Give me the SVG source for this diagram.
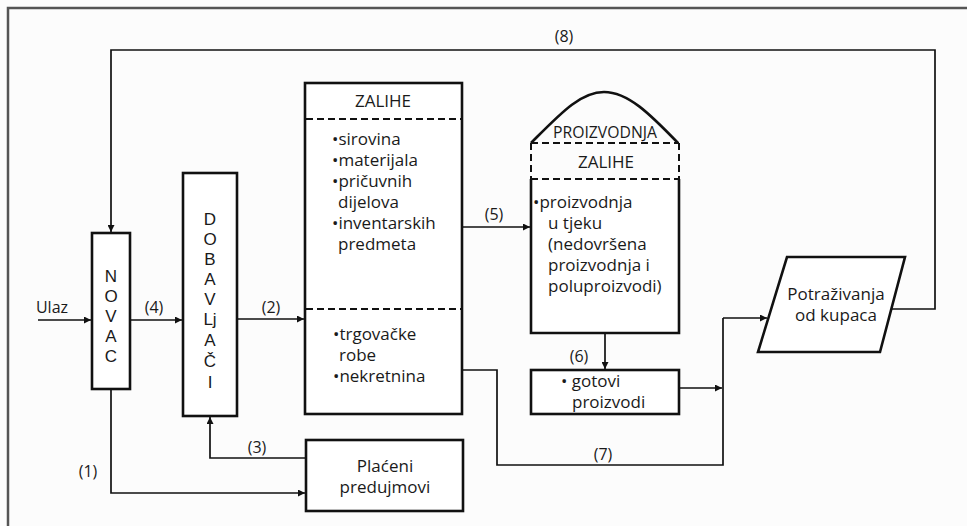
<svg xmlns="http://www.w3.org/2000/svg" width="967" height="526" viewBox="0 0 967 526">
<defs>
<marker id="arr" viewBox="0 0 10 10" refX="10" refY="5" markerWidth="7" markerHeight="7" markerUnits="userSpaceOnUse" orient="auto">
<path d="M0,0 L10,5 L0,10 z" fill="#111"/>
</marker>
<style>
.box{fill:#fff;stroke:#111;stroke-width:2.6}
.solid{fill:none;stroke:#111;stroke-width:2.6}
.dash{fill:none;stroke:#111;stroke-width:2;stroke-dasharray:7 4}
.ln{fill:none;stroke:#111;stroke-width:1.7}
.ar{marker-end:url(#arr)}
text{font-family:"Open Sans","Noto Sans",sans-serif;fill:#1a1a1a;font-size:17px}
.lbl{font-size:16px;text-anchor:middle}
.vl{font-family:"Liberation Sans",Arial,sans-serif;font-size:17px;text-anchor:middle}
.c{text-anchor:middle}
</style>
</defs>
<rect width="967" height="526" fill="#fcfcfc"/>
<path d="M8,526 V8 H967" fill="none" stroke="#555" stroke-width="2.5"/>

<g id="connectors">
<path class="ln ar" d="M38,320 H91"/>
<path class="ln ar" d="M130,320 H182"/>
<path class="ln ar" d="M237,319 H304"/>
<path class="ln ar" d="M462,227 H530"/>
<path class="ln ar" d="M605,334 V369"/>
<path class="ln ar" d="M306,458 H210 V417"/>
<path class="ln ar" d="M111,389 V493 H305"/>
<path class="ln" d="M463,370 H497 V465 H723 V318"/>
<path class="ln ar" d="M723,318 H767"/>
<path class="ln ar" d="M679,388 H722"/>
<path class="ln ar" d="M892,309 H935 V50 H111 V232"/>
<text x="52" y="313" class="lbl">Ulaz</text>
<text x="154" y="313" class="lbl">(4)</text>
<text x="271" y="313" class="lbl">(2)</text>
<text x="494" y="220" class="lbl">(5)</text>
<text x="579" y="362" class="lbl">(6)</text>
<text x="257" y="453" class="lbl">(3)</text>
<text x="88" y="477" class="lbl">(1)</text>
<text x="603" y="460" class="lbl">(7)</text>
<text x="564" y="42" class="lbl">(8)</text>
</g>

<g id="novac">
<rect class="box" x="92" y="233" width="38" height="156"/>
<text class="vl" x="111" y="282">N</text>
<text class="vl" x="111" y="302">O</text>
<text class="vl" x="111" y="322">V</text>
<text class="vl" x="111" y="342">A</text>
<text class="vl" x="111" y="362">C</text>
</g>

<g id="dobavljaci">
<rect class="box" x="183" y="173" width="54" height="243"/>
<text class="vl" x="210" y="225">D</text>
<text class="vl" x="210" y="245">O</text>
<text class="vl" x="210" y="265">B</text>
<text class="vl" x="210" y="285">A</text>
<text class="vl" x="210" y="305">V</text>
<text class="vl" x="210" y="325">Lj</text>
<text class="vl" x="210" y="346">A</text>
<text class="vl" x="210" y="367">Č</text>
<text class="vl" x="210" y="388">I</text>
</g>

<g id="zalihe">
<rect class="box" x="305" y="83" width="157" height="331"/>
<path class="dash" d="M306,119 H461 M306,309 H461"/>
<text class="c" x="383" y="107">ZALIHE</text>
<text x="332" y="145">•sirovina</text>
<text x="332" y="166">•materijala</text>
<text x="332" y="187">•pričuvnih</text>
<text x="338" y="208">dijelova</text>
<text x="332" y="229">•inventarskih</text>
<text x="338" y="250">predmeta</text>
<text x="333" y="340">•trgovačke</text>
<text x="339" y="361">robe</text>
<text x="333" y="382">•nekretnina</text>
</g>

<g id="proizvodnja">
<path class="solid" d="M531,143 C560,114 580,92 604,92 C628,92 650,114 678,143"/>
<rect x="531" y="179" width="148" height="154" fill="#fff" stroke="none"/>
<path class="solid" d="M531,179 V333 H679 V179"/>
<path class="dash" d="M531,143 H679 M531,179 H679 M531,143 V179 M679,143 V179"/>
<text x="605" y="138" class="c" font-size="15" textLength="104" lengthAdjust="spacingAndGlyphs">PROIZVODNJA</text>
<text x="606" y="168" class="c">ZALIHE</text>
<text x="533" y="208">•proizvodnja</text>
<text x="548" y="229">u tjeku</text>
<text x="548" y="250">(nedovršena</text>
<text x="548" y="271">proizvodnja i</text>
<text x="548" y="292">poluproizvodi)</text>
</g>

<g id="gotovi">
<rect class="box" x="531" y="370" width="148" height="44"/>
<text x="561" y="387">• gotovi</text>
<text x="572" y="408">proizvodi</text>
</g>

<g id="placeni">
<rect class="box" x="306" y="440" width="157" height="71"/>
<text class="c" x="385" y="472">Plaćeni</text>
<text class="c" x="385" y="493">predujmovi</text>
</g>

<g id="potrazivanja">
<polygon class="box" points="787,257 905,257 880,352 758,352"/>
<text class="c" x="836" y="300">Potraživanja</text>
<text class="c" x="836" y="321">od kupaca</text>
</g>
</svg>
